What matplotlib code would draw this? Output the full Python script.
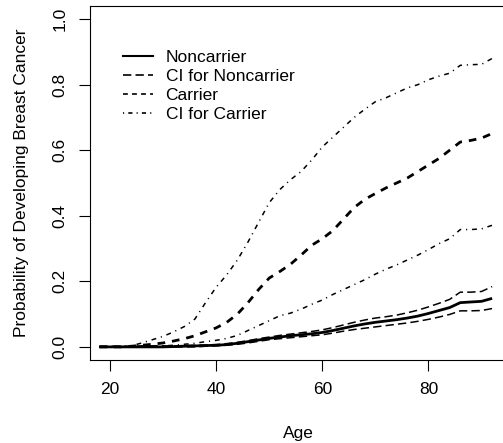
import matplotlib
matplotlib.use("Agg")
import matplotlib.pyplot as plt
from matplotlib.lines import Line2D

plt.rcParams['font.family'] = ['Liberation Sans', 'DejaVu Sans']
plt.rcParams['lines.scale_dashes'] = False

age = [18, 20, 22, 24, 26, 28, 30, 32, 34, 36, 38, 40, 42, 44, 46, 48, 50, 52, 54,
       56, 58, 60, 62, 64, 66, 68, 70, 72, 74, 76, 78, 80, 82, 84, 86, 88, 90, 92]

noncarrier = [0.0, 0.0, 0.0, 0.0, 0.0, 0.0, 0.0, 0.001, 0.002, 0.003, 0.004, 0.005,
              0.007, 0.011, 0.016, 0.021, 0.026, 0.030, 0.034, 0.037, 0.040, 0.044,
              0.050, 0.057, 0.064, 0.070, 0.075, 0.079, 0.083, 0.088, 0.094, 0.102,
              0.111, 0.120, 0.135, 0.137, 0.139, 0.148]
ci_non_upper = [0.002, 0.002, 0.002, 0.002, 0.003, 0.003, 0.003, 0.003, 0.004, 0.005,
                0.006, 0.007, 0.010, 0.014, 0.019, 0.025, 0.030, 0.035, 0.039, 0.043,
                0.047, 0.052, 0.059, 0.067, 0.075, 0.082, 0.088, 0.092, 0.097, 0.104,
                0.112, 0.122, 0.133, 0.145, 0.167, 0.167, 0.169, 0.184]
ci_non_lower = [0.0, 0.0, 0.0, 0.0, 0.0, 0.0, 0.0, 0.0, 0.0, 0.0, 0.002, 0.003, 0.005,
                0.008, 0.012, 0.017, 0.022, 0.025, 0.028, 0.031, 0.034, 0.037, 0.042,
                0.048, 0.053, 0.057, 0.061, 0.065, 0.069, 0.073, 0.078, 0.084, 0.091,
                0.099, 0.110, 0.110, 0.111, 0.117]
carrier = [0.0, 0.0, 0.0, 0.002, 0.005, 0.008, 0.012, 0.018, 0.025, 0.034, 0.046, 0.058,
           0.075, 0.100, 0.135, 0.175, 0.210, 0.230, 0.252, 0.280, 0.310, 0.330, 0.355,
           0.390, 0.425, 0.450, 0.468, 0.485, 0.500, 0.515, 0.535, 0.555, 0.575, 0.600,
           0.625, 0.630, 0.637, 0.651]
ci_car_upper = [0.0, 0.0, 0.0, 0.003, 0.012, 0.022, 0.032, 0.046, 0.062, 0.085, 0.135,
                0.182, 0.220, 0.265, 0.320, 0.380, 0.440, 0.480, 0.510, 0.535, 0.570,
                0.610, 0.640, 0.670, 0.700, 0.725, 0.748, 0.760, 0.775, 0.790, 0.800,
                0.815, 0.826, 0.835, 0.859, 0.861, 0.862, 0.880]
ci_car_lower = [0.0, 0.0, 0.0, 0.0, 0.0, 0.001, 0.003, 0.005, 0.008, 0.011, 0.016, 0.020,
                0.026, 0.035, 0.050, 0.065, 0.080, 0.095, 0.103, 0.115, 0.130, 0.143,
                0.160, 0.175, 0.190, 0.205, 0.222, 0.237, 0.250, 0.265, 0.280, 0.297,
                0.315, 0.330, 0.358, 0.358, 0.360, 0.371]

labels = ["Noncarrier", "CI for Noncarrier", "Carrier", "CI for Carrier"]
xticks = [20, 40, 60, 80]
yticks = [0.0, 0.2, 0.4, 0.6, 0.8, 1.0]

FS = 12.5
W, H = 503, 443
fig = plt.figure(figsize=(W / 100, H / 100), dpi=100)
ax = fig.add_axes([90 / W, (H - 360) / H, 417 / W, 354 / H])

dash_ci_non = (0, (6, 3))
dash_car = (0, (5.5, 5))
dash_ci_car = (0, (0.8, 3.5, 3.5, 3.5))

ax.plot(age, noncarrier, color='black', lw=2.0, solid_capstyle='butt')
ax.plot(age, ci_non_upper, color='black', lw=1.1, linestyle=dash_ci_non)
ax.plot(age, ci_non_lower, color='black', lw=1.1, linestyle=dash_ci_non)
ax.plot(age, carrier, color='black', lw=2.0, linestyle=dash_car)
ax.plot(age, ci_car_upper, color='black', lw=1.1, linestyle=dash_ci_car)
ax.plot(age, ci_car_lower, color='black', lw=1.1, linestyle=dash_ci_car)

ax.set_xlim(16.23, 94.8)
ax.set_ylim(-0.04, 1.04)
ax.set_xticks(xticks)
ax.set_xticklabels([str(v) for v in xticks])
ax.set_yticks(yticks)
ax.set_yticklabels([f"{v:.1f}" for v in yticks], rotation=90, va='center')
ax.tick_params(axis='both', direction='out', length=8, width=0.8, labelsize=FS,
               colors='black', pad=8)
for s in ax.spines.values():
    s.set_linewidth(0.8)
    s.set_color('black')

ax.set_xlabel("Age", fontsize=FS, labelpad=21)
ax.set_ylabel("Probability of Developing Breast Cancer", fontsize=FS, labelpad=17)

handles = [
    Line2D([], [], color='black', lw=1.5),
    Line2D([], [], color='black', lw=1.2, linestyle=(0, (6, 3))),
    Line2D([], [], color='black', lw=1.2, linestyle=(0, (3.5, 3))),
    Line2D([], [], color='black', lw=1.2, linestyle=(0, (0.8, 3, 3, 3))),
]
fig.legend(handles, labels, loc='upper left', bbox_to_anchor=(123 / W, (H - 50) / H),
           frameon=False, fontsize=FS, handlelength=1.75, handletextpad=0.7,
           labelspacing=0.22, borderpad=0, borderaxespad=0)

fig.savefig("out.png", dpi=100)
